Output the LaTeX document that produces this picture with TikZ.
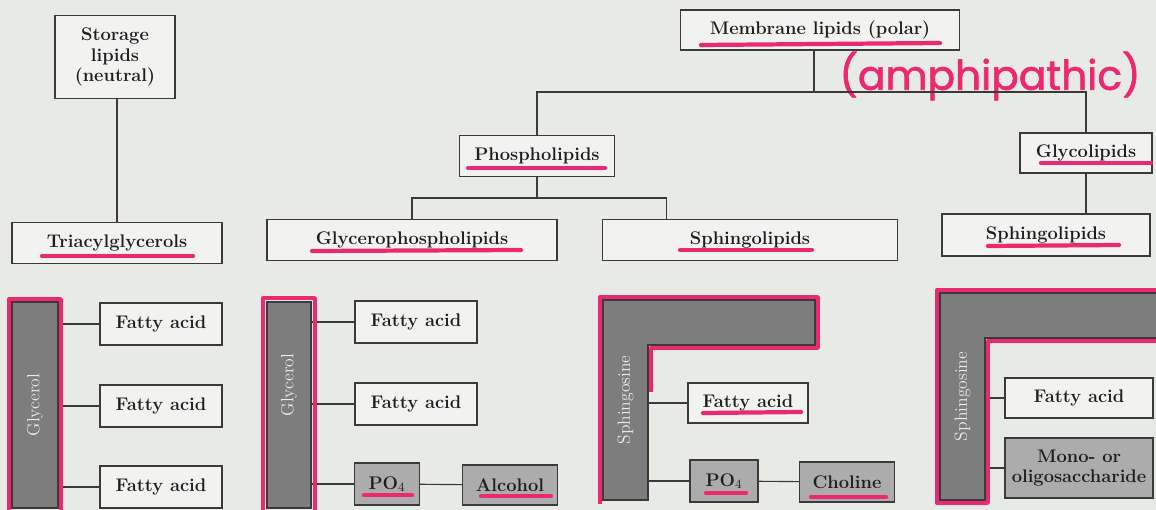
\documentclass[tikz,border=0pt]{standalone}
\usepackage{fontspec}
\newfontfamily\handfont[FakeBold=1.6]{Poppins}
\usepackage{tikz}
\usetikzlibrary{
  positioning,
  calc
}
\definecolor{paper}{RGB}{231,234,229}
\definecolor{boxline}{RGB}{58,58,58}
\definecolor{inkdark}{RGB}{30,30,30}
\definecolor{hotpink}{RGB}{236,40,112}
\definecolor{bargray}{RGB}{125,125,125}
\definecolor{lightbar}{RGB}{172,172,172}
\tikzset{
  classbox/.style={draw=boxline, line width=0.8pt, fill=paper!55!white,
    text=inkdark, font=\fontsize{13}{14.5}\selectfont\bfseries,
    align=center, inner sep=0pt},
  partbox/.style={classbox, minimum width=3.05cm, minimum height=1.05cm},
  groupbox/.style={partbox, fill=lightbar},
  barbox/.style={fill=bargray, draw=boxline, line width=0.8pt, inner sep=0pt,
    text=white!85!gray, font=\fontsize{12.5}{14}\selectfont},
  link/.style={draw=boxline, line width=0.8pt},
  marker/.style={draw=hotpink, line width=3pt, line cap=round},
  ring/.style={draw=hotpink, line width=2.4pt, line join=round}
}

\begin{document}
\begin{tikzpicture}[x=0.025cm,y=-0.025cm]
  \fill[paper] (0,0) rectangle (1156,510);
  \useasboundingbox (0,0) rectangle (1156,510);

  % top of the tree
  \node[classbox, minimum width=3cm, minimum height=2.075cm] (stor) at (115,57) {Storage\\lipids\\(neutral)};
  \node[classbox, minimum width=6.975cm, minimum height=1cm] (memb) at (820,30) {Membrane lipids (polar)};
  \node[classbox, minimum width=3.875cm, minimum height=1.025cm] (phos) at (537,156) {Phospholipids};
  \node[classbox, minimum width=3.3cm, minimum height=1cm] (glyc) at (1086,153) {Glycolipids};
  \node[classbox, minimum width=5.25cm, minimum height=1.025cm] (tag) at (117,243) {Triacylglycerols};
  \node[classbox, minimum width=7.25cm, minimum height=1.025cm] (gpl) at (412,240) {Glycerophospholipids};
  \node[classbox, minimum width=7.375cm, minimum height=1.025cm] (spl) at (750,240) {Sphingolipids};
  \node[classbox, minimum width=5.2cm, minimum height=1.05cm] (gsl) at (1046,235) {Sphingolipids};
  \node[text=hotpink, font=\handfont\fontsize{29}{31}\selectfont] (amph) at (990,76) {(amphipathic)};

  \coordinate (mj) at (814,92);
  \coordinate (pj) at (537,198);
  \draw[link] (stor.south -| tag.north) -- (tag.north);
  \draw[link] (memb.south -| mj) -- (mj);
  \draw[link] (phos.north) |- (mj) -| (glyc.north);
  \draw[link] (phos.south) -- (pj);
  \draw[link] (gpl.north) |- (pj) -| ([xshift=1.625cm]spl.north west);
  \draw[link] (glyc.south) -- (glyc.south |- gsl.north);

  % triacylglycerol
  \node[barbox, minimum width=1.15cm, minimum height=5.15cm] (gly1) at (35,405) {\rotatebox{90}{Glycerol}};
  \node[partbox] (fa1) at (161,324) {Fatty acid};
  \node[partbox] (fa2) at (161,406) {Fatty acid};
  \node[partbox] (fa3) at (161,487) {Fatty acid};
  \foreach \f in {fa1,fa2,fa3}
    \draw[link] (gly1.east |- \f) -- (\f);

  % glycerophospholipid
  \node[barbox, minimum width=1.1cm, minimum height=5.15cm] (gly2) at (289,405) {};
  \node[text=white!85!gray, font=\fontsize{12.5}{14}\selectfont, rotate=90] at (289,385) {Glycerol};
  \node[partbox] (fa4) at (416,322) {Fatty acid};
  \node[partbox] (fa5) at (416,404) {Fatty acid};
  \node[groupbox, minimum width=1.625cm] (po1) at (387,484) {PO$_4$};
  \node[groupbox, minimum width=2.375cm, minimum height=1cm] (alc) at (510,485) {Alcohol};
  \foreach \f in {fa4,fa5,po1}
    \draw[link] (gly2.east |- \f) -- (\f);
  \draw[link] (po1) -- (alc);

  % sphingomyelin
  \fill[bargray] (603,300) -- (815,300) -- (815,345) -- (648,345) -- (648,500) -- (603,500) -- cycle;
  \draw[link] (603,300) -- (815,300) -- (815,345) -- (648,345) -- (648,500) -- (603,500) -- cycle;
  \node[inner sep=0pt, minimum width=1.125cm, minimum height=5cm, text=white!85!gray,
    font=\fontsize{12.5}{14}\selectfont] (sph1) at (625.5,400) {\rotatebox{90}{Sphingosine}};
  \node[partbox, minimum width=3cm, minimum height=1cm] (fa6) at (748,403) {Fatty acid};
  \node[groupbox, minimum width=1.7cm] (po2) at (724,481) {PO$_4$};
  \node[groupbox, minimum width=2.375cm, minimum height=1cm] (chol) at (847,482) {Choline};
  \foreach \f in {fa6,po2}
    \draw[link] (sph1.east |- \f) -- (\f);
  \draw[link] (po2) -- (chol);

  % glycolipid
  \fill[bargray] (940,293) -- (1156,293) -- (1156,338) -- (985,338) -- (985,500) -- (940,500) -- cycle;
  \draw[link] (1156,293) -- (940,293) -- (940,500) -- (985,500) -- (985,338) -- (1156,338);
  \node[inner sep=0pt, minimum width=1.125cm, minimum height=5.175cm, text=white!85!gray,
    font=\fontsize{12.5}{14}\selectfont] (sph2) at (962.5,396.5) {\rotatebox{90}{Sphingosine}};
  \node[partbox, minimum width=3.7cm, minimum height=1cm] (fa7) at (1079,398) {Fatty acid};
  \node[groupbox, minimum width=3.7cm, minimum height=1.5cm] (sug) at (1079,468) {Mono- or\\oligosaccharide};
  \foreach \f in {fa7,sug}
    \draw[link] (sph2.east |- \f) -- (\f);

  % pink marks
  \draw[ring] (9,299) rectangle (61,512);
  \draw[ring] (263,298) rectangle (315,512);
  \draw[ring] (600,504) -- (600,297) -- (818,297) -- (818,348) -- (651,348) -- (651,392);
  \draw[ring] (1158,290) -- (937,290) -- (937,503) -- (988,503) -- (988,341) -- (1158,341);
  \draw[marker] (42,256) -- (193,256);
  \draw[marker] (312,251) -- (521,250);
  \draw[marker] (680,250) -- (812,250);
  \draw[marker] (988,246) -- (1119,245);
  \draw[marker] (1041,163) -- (1151,163);
  \draw[marker] (468,168) -- (605,168);
  \draw[marker] (701,45) -- (940,43);
  \draw[marker] (364,495) -- (412,495);
  \draw[marker] (481,496) -- (551,496);
  \draw[marker] (703,413) -- (801,412);
  \draw[marker] (706,493) -- (746,493);
  \draw[marker] (811,497) -- (886,497);
\end{tikzpicture}
\end{document}
